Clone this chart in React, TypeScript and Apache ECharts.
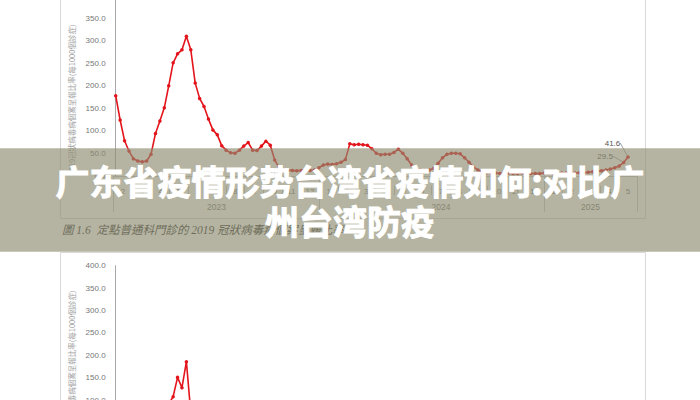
import React, { useEffect, useRef } from "react";
import * as echarts from "echarts";

// Month tick labels (Feb 2023 .. May 2025) and year group labels
const MONTHS = ["2","3","4","5","6","7","8","9","10","11","12","1","2","3","4","5","6","7","8","9","10","11","12","1","2","3","4","5"];
const YEARS = ["2023", "2024", "2025"];
const MONTHS_PER_YEAR = [11, 12, 5];

// Weekly rate per 1000 consultations (top chart)
const TOP_RATES = [
  178, 124, 78, 55, 38, 33, 31, 33, 48, 94,
  122, 151, 200, 251, 271, 280, 310, 280, 206, 172,
  154, 126, 102, 91, 67, 57, 51, 50, 57, 66,
  74, 57, 56, 66, 77, 68, 35, 18, 13, 12,
  12, 11, 12, 11, 12, 13, 18, 24, 26, 25,
  27, 30, 36, 71, 69, 70, 69, 68, 60, 50,
  47, 48, 48, 52, 59, 50, 38, 24, 16, 13,
  12, 13, 17, 28, 40, 48, 50, 50, 49, 40,
  30, 20, 13, 9, 7, 6, 6, 5, 6, 6,
  5, 5, 6, 6, 5, 5, 5, 6, 6, 5,
  5, 6, 6, 6, 6, 7, 7, 8, 9, 10,
  11, 13, 15, 18, 22, 29.5, 41.6,
];
const LABELED_WEEKS = [115, 116];

// Bottom chart (only the visible part of the curve)
const BOTTOM_START_WEEK = 8;
const BOTTOM_RATES = [40, 52, 65, 80, 92, 108, 151, 128, 186, 72, 48, 36];

const Y_TICKS_MAX = 400;
const Y_STEP = 50;

const TITLE_LINE1 = "广东省疫情形势台湾省疫情如何:对比广";
const TITLE_LINE2 = "州台湾防疫";
const CAPTION = "圖 1.6  定點普通科門診的 2019 冠狀病毒病個案呈報比率";
const Y_NAME = "2019冠狀病毒病個案呈報比率(每1000個診症)";

export default function App() {
  const ref = useRef<HTMLDivElement>(null);

  useEffect(() => {
    if (!ref.current) return;
    const chart = echarts.init(ref.current, undefined, { renderer: "svg" });

    const yearStart: number[] = [];
    const yearMid: number[] = [];
    let acc = 0;
    MONTHS_PER_YEAR.forEach((n) => {
      yearStart.push(acc);
      yearMid.push(acc + Math.floor(n / 2));
      acc += n;
    });

    const font = '"Liberation Sans", Arial, sans-serif';
    const red = "#e3141b";
    const axisGray = "#a8a8a8";
    const lightGray = "#c8c8c8";

    const topData = TOP_RATES.map((v, i) => {
      if (LABELED_WEEKS.includes(i)) {
        return {
          value: [i, v],
          label: {
            show: true,
            position: "left",
            distance: 4,
            fontSize: 8,
            color: "#555",
            fontFamily: font,
            formatter: (p: any) => String(p.value[1]),
          },
        };
      }
      return [i, v];
    });
    const bottomData = BOTTOM_RATES.map((v, k) => [BOTTOM_START_WEEK + k, v]);

    const yAxisCommon = {
      type: "value",
      min: 0,
      max: Y_TICKS_MAX,
      interval: Y_STEP,
      axisLine: { show: true, lineStyle: { color: axisGray, width: 1 } },
      axisTick: { show: false },
      splitLine: { show: false },
      axisLabel: {
        fontSize: 8,
        color: "#777",
        margin: 8,
        fontFamily: font,
        formatter: (v: number) => v.toFixed(1),
      },
    };

    const option: any = {
      animation: false,
      backgroundColor: "#ffffff",
      textStyle: { fontFamily: font },
      grid: [
        { left: 113.6, width: 523.7, top: -4.2, height: 180, containLabel: false, outerBoundsMode: "none" },
        { left: 113.6, width: 523.7, top: 265.7, height: 179.4, containLabel: false, outerBoundsMode: "none" },
      ],
      xAxis: [
        { type: "value", gridIndex: 0, min: -0.48, max: 118.1, show: false },
        {
          type: "category",
          gridIndex: 0,
          data: MONTHS,
          position: "bottom",
          offset: 10,
          boundaryGap: true,
          axisLine: { show: false },
          axisTick: { show: true, length: 9, interval: 0, lineStyle: { color: lightGray } },
          axisLabel: { interval: 0, fontSize: 8, color: "#777", margin: 2, fontFamily: font },
        },
        {
          type: "category",
          gridIndex: 0,
          data: MONTHS,
          position: "bottom",
          offset: 0,
          boundaryGap: true,
          axisLine: { show: true, lineStyle: { color: lightGray } },
          axisTick: {
            show: true,
            length: 36,
            interval: (i: number) => yearStart.includes(i),
            lineStyle: { color: lightGray },
          },
          axisLabel: {
            interval: (i: number) => yearMid.includes(i),
            formatter: (_v: string, i: number) => {
              const k = yearMid.indexOf(i);
              return k >= 0 ? YEARS[k] : "";
            },
            fontSize: 8.5,
            color: "#777",
            margin: 27,
            fontFamily: font,
          },
        },
        { type: "value", gridIndex: 1, min: -0.48, max: 118.1, show: false },
      ],
      yAxis: [
        { ...yAxisCommon, gridIndex: 0, axisLabel: { ...yAxisCommon.axisLabel, showMaxLabel: false } },
        { ...yAxisCommon, gridIndex: 1 },
      ],
      series: [
        {
          type: "line",
          xAxisIndex: 0,
          yAxisIndex: 0,
          data: topData,
          symbol: "circle",
          symbolSize: 3.5,
          showAllSymbol: true,
          lineStyle: { color: red, width: 1.6 },
          itemStyle: { color: red },
          labelLine: { show: true, smooth: 0.4, lineStyle: { color: "#8a8a8a", width: 0.8 } },
          labelLayout: (p: any) =>
            p.dataIndex === 116 ? { dx: -2, dy: -14 } : { dx: -5, dy: -6.5 },
          z: 3,
        },
        {
          type: "line",
          xAxisIndex: 3,
          yAxisIndex: 1,
          data: bottomData,
          symbol: "circle",
          symbolSize: 3.5,
          showAllSymbol: true,
          lineStyle: { color: red, width: 1.6 },
          itemStyle: { color: red },
          z: 3,
        },
      ],
      graphic: {
        elements: [
          {
            type: "rect",
            z: 0,
            silent: true,
            shape: { x: 60.5, y: -5, width: 585, height: 223.5 },
            style: { fill: "none", stroke: "#d9d9d9", lineWidth: 1 },
          },
          {
            type: "rect",
            z: 0,
            silent: true,
            shape: { x: 60.5, y: 252.5, width: 585, height: 200 },
            style: { fill: "none", stroke: "#d9d9d9", lineWidth: 1 },
          },
          {
            type: "text",
            z: 5,
            x: 71.5,
            y: 100,
            rotation: Math.PI / 2,
            style: {
              text: Y_NAME,
              fill: "#a0a0a0",
              fontSize: 7.5,
              fontFamily: '"Noto Sans CJK TC", sans-serif',
              textAlign: "center",
              textVerticalAlign: "middle",
            },
          },
          {
            type: "text",
            z: 5,
            x: 71.5,
            y: 366,
            rotation: Math.PI / 2,
            style: {
              text: Y_NAME,
              fill: "#a0a0a0",
              fontSize: 7.5,
              fontFamily: '"Noto Sans CJK TC", sans-serif',
              textAlign: "center",
              textVerticalAlign: "middle",
            },
          },
          {
            type: "text",
            z: 5,
            x: 62,
            y: 230,
            style: {
              text: CAPTION,
              fill: "#333",
              fontSize: 11.5,
              fontStyle: "italic",
              fontFamily: '"Liberation Serif", "Noto Sans CJK TC", serif',
              textAlign: "left",
              textVerticalAlign: "middle",
            },
          },
          {
            type: "rect",
            z: 100,
            silent: true,
            shape: { x: 0, y: 148.3, width: 700, height: 103.5 },
            style: { fill: "rgba(141,140,112,0.65)" },
          },
          {
            type: "text",
            z: 110,
            x: 350,
            y: 180,
            style: {
              text: TITLE_LINE1,
              fill: "#ffffff",
              fontSize: 34,
              fontWeight: "bold",
              fontFamily: '"Noto Sans CJK SC", sans-serif',
              textAlign: "center",
              textVerticalAlign: "middle",
              stroke: "#ffffff",
              lineWidth: 1,
            },
          },
          {
            type: "text",
            z: 110,
            x: 350,
            y: 220,
            style: {
              text: TITLE_LINE2,
              fill: "#ffffff",
              fontSize: 34,
              fontWeight: "bold",
              fontFamily: '"Noto Sans CJK SC", sans-serif',
              textAlign: "center",
              textVerticalAlign: "middle",
              stroke: "#ffffff",
              lineWidth: 1,
            },
          },
        ],
      },
    };

    chart.setOption(option);
    return () => chart.dispose();
  }, []);

  return (
    <div
      ref={ref}
      style={{ position: "fixed", left: 0, top: 0, width: 700, height: 400 }}
    />
  );
}
